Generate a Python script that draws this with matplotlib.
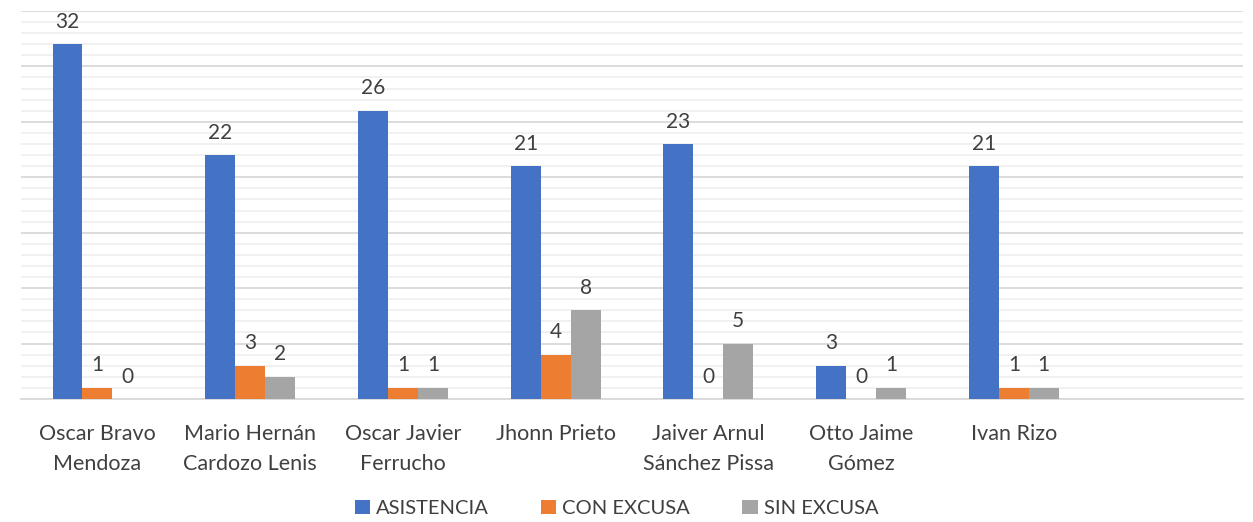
import numpy as np
import matplotlib.pyplot as plt
from matplotlib.ticker import MultipleLocator

categories = ["Oscar Bravo\nMendoza", "Mario Hernán\nCardozo Lenis", "Oscar Javier\nFerrucho",
              "Jhonn Prieto", "Jaiver Arnul\nSánchez Pissa", "Otto Jaime\nGómez", "Ivan Rizo"]
asistencia = [32, 22, 26, 21, 23, 3, 21]
con_excusa = [1, 3, 1, 4, 0, 0, 1]
sin_excusa = [0, 2, 1, 8, 5, 1, 1]

series = [("ASISTENCIA", asistencia, "#4472C4"),
          ("CON EXCUSA", con_excusa, "#ED7D31"),
          ("SIN EXCUSA", sin_excusa, "#A5A5A5")]

plt.rcParams['font.family'] = ['Lato', 'DejaVu Sans']
textColor = "#404040"

fig = plt.figure(figsize=(12.53, 5.22), dpi=100)
ax = fig.add_axes([0.0168, 0.2356, 0.9752, 0.7434])

x = np.arange(len(categories))
width = 0.196
for i, (name, vals, color) in enumerate(series):
    pos = x + (i - 1) * width
    bars = ax.bar(pos, vals, width, color=color, label=name, zorder=3)
    for b, v in zip(bars, vals):
        ax.annotate(str(v), (b.get_x() + b.get_width() / 2, v), xytext=(0, 9),
                    textcoords="offset points", ha="center", va="bottom",
                    fontsize=15, color=textColor)

ax.set_xlim(-0.5, 7.5)
ax.set_ylim(0, 35)
ax.yaxis.set_major_locator(MultipleLocator(5))
ax.yaxis.set_minor_locator(MultipleLocator(1))
ax.grid(axis="y", which="major", color="#D9D9D9", linewidth=1.3, zorder=0)
ax.grid(axis="y", which="minor", color="#F0F0F0", linewidth=1.3, zorder=0)
ax.tick_params(axis="y", which="both", left=False, labelleft=False)

ax.set_xticks(x)
ax.set_xticklabels(categories, fontsize=15.5, color=textColor, linespacing=1.6)
ax.tick_params(axis="x", length=0, pad=18)

for s in ["top", "right", "left"]:
    ax.spines[s].set_visible(False)
ax.spines["bottom"].set_color("#D9D9D9")
ax.spines["bottom"].set_linewidth(1.3)

fig.legend(loc="lower center", bbox_to_anchor=(0.492, -0.025), ncol=3, frameon=False,
           fontsize=14.5, labelcolor=textColor, handlelength=0.75, handleheight=0.75,
           handletextpad=0.3, columnspacing=2.6)

fig.savefig("out.png", dpi=100)
